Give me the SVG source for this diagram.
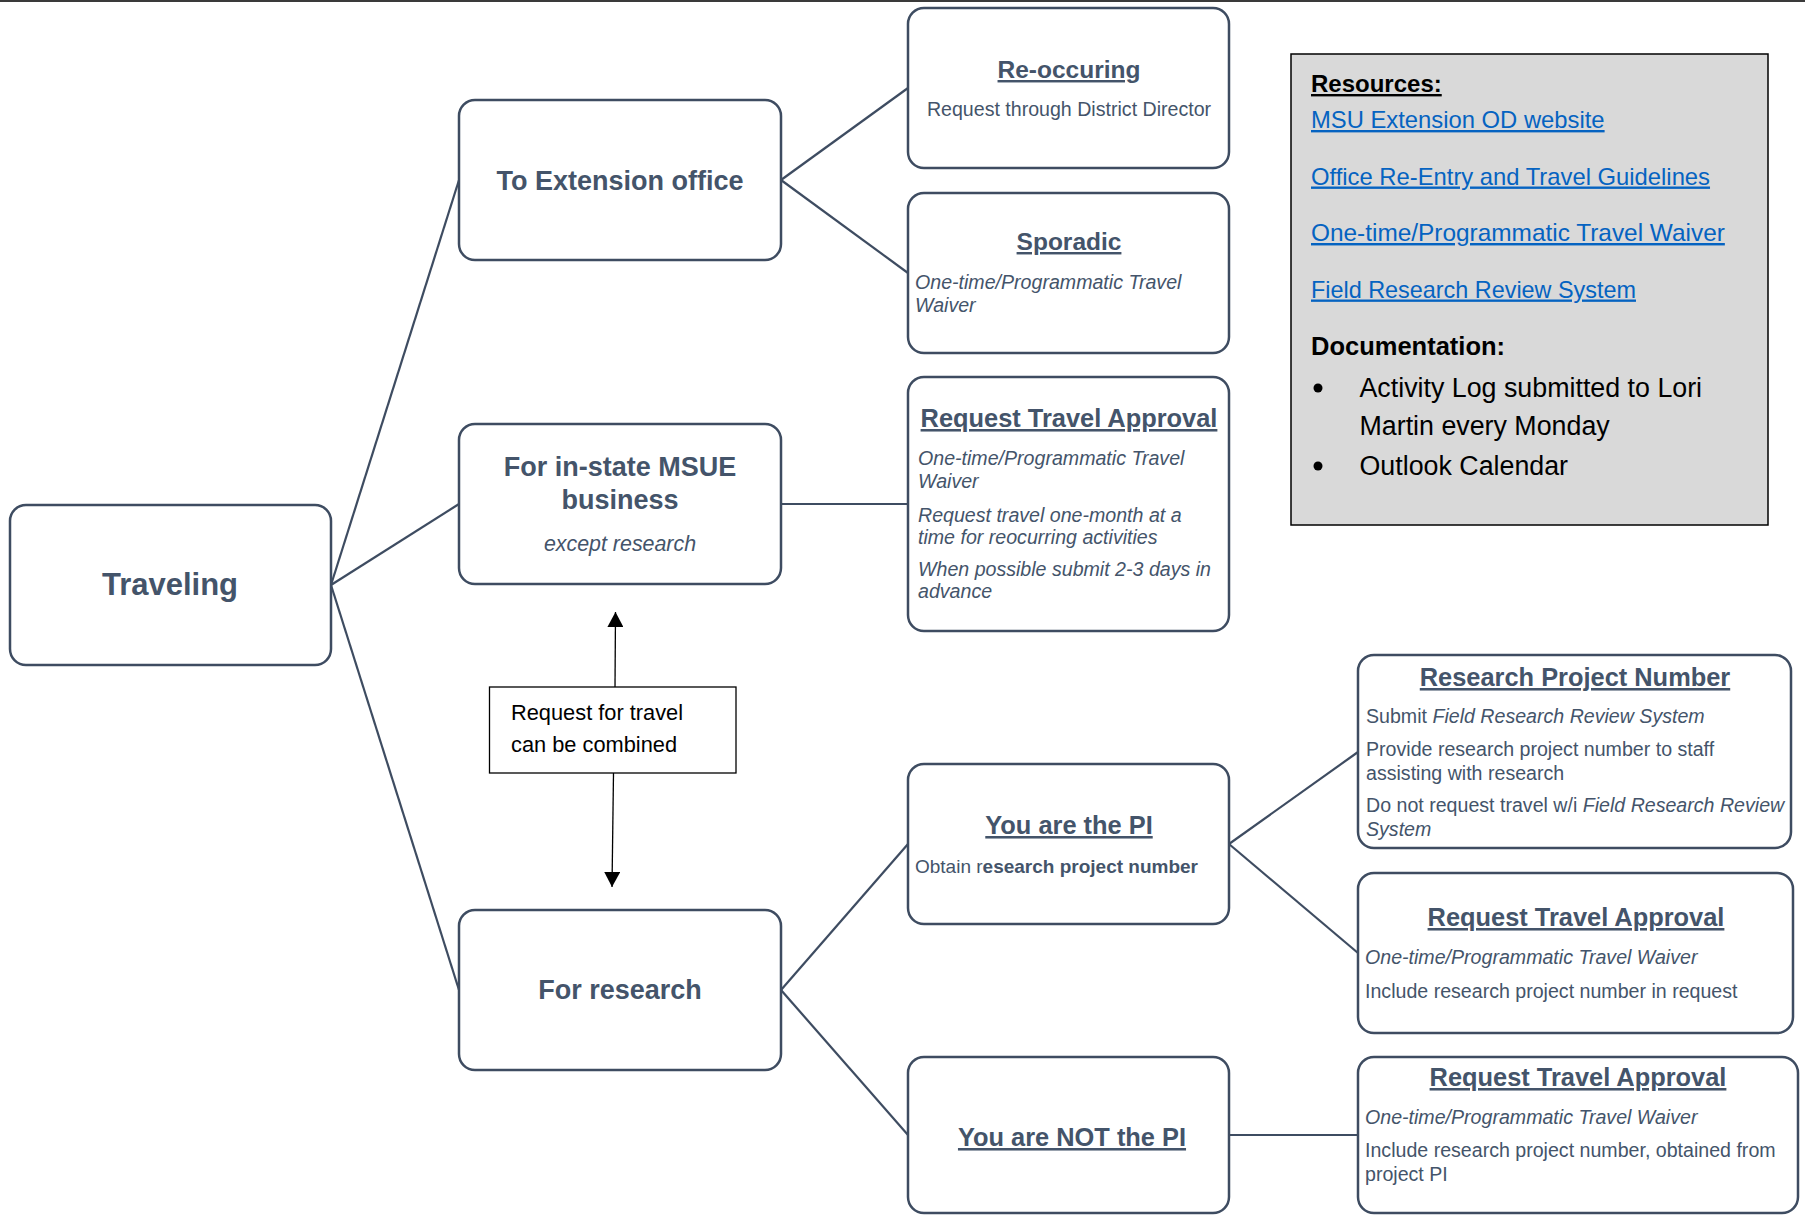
<svg xmlns="http://www.w3.org/2000/svg" width="1805" height="1215" viewBox="0 0 1805 1215">
<style>
text{font-family:"Liberation Sans",Arial,sans-serif;fill:#44546A}
.box{fill:#fff;stroke:#3E4C61;stroke-width:2.5}
.main{font-weight:bold;font-size:27px;text-anchor:middle}
.title{font-weight:bold;font-size:25.4px;text-anchor:middle;text-decoration:underline}
.body{font-size:19.6px}
.it{font-style:italic}
.b{font-weight:bold}
.conn line{stroke:#3E4C61;stroke-width:2.2}
.res{font-size:23.8px;fill:#0563C1;text-decoration:underline}
.blk{fill:#000}
</style>
<defs>
<marker id="ah" markerUnits="userSpaceOnUse" markerWidth="16" markerHeight="16" refX="15" refY="8" orient="auto">
<path d="M0,0 L15,8 L0,16 z" fill="#000"/>
</marker>
</defs>
<rect x="0" y="0" width="1805" height="2" fill="#3a3a3a"/>
<g id="connectors" class="conn">
<line x1="331" y1="585" x2="459" y2="180"/>
<line x1="331" y1="585" x2="459" y2="504"/>
<line x1="331" y1="585" x2="459" y2="990"/>
<line x1="781" y1="180" x2="908" y2="88"/>
<line x1="781" y1="180" x2="908" y2="273"/>
<line x1="781" y1="504" x2="908" y2="504"/>
<line x1="781" y1="990" x2="908" y2="844"/>
<line x1="781" y1="990" x2="908" y2="1135"/>
<line x1="1229" y1="844" x2="1358" y2="752"/>
<line x1="1229" y1="844" x2="1358" y2="953"/>
<line x1="1229" y1="1135" x2="1358" y2="1135"/>
<line x1="615" y1="687" x2="615.5" y2="612" style="stroke:#000;stroke-width:1.3" marker-end="url(#ah)"/>
<line x1="613.5" y1="773" x2="612" y2="887" style="stroke:#000;stroke-width:1.3" marker-end="url(#ah)"/>
</g>
<g id="traveling">
<rect class="box" x="10" y="505" width="321" height="160" rx="16"/>
<text x="170" y="595" style="font-weight:bold;font-size:31px;text-anchor:middle">Traveling</text>
</g>
<g id="to-extension-office">
<rect class="box" x="459" y="100" width="322" height="160" rx="16"/>
<text class="main" x="620" y="190">To Extension office</text>
</g>
<g id="in-state">
<rect class="box" x="459" y="424" width="322" height="160" rx="16"/>
<text class="main" x="620" y="476">For in-state MSUE</text>
<text class="main" x="620" y="509">business</text>
<text x="620" y="551" style="font-size:21.4px;font-style:italic;text-anchor:middle">except research</text>
</g>
<g id="for-research">
<rect class="box" x="459" y="910" width="322" height="160" rx="16"/>
<text class="main" x="620" y="999">For research</text>
</g>
<g id="re-occuring">
<rect class="box" x="908" y="8" width="321" height="160" rx="16"/>
<text class="title" x="1069" y="78" style="font-size:24.5px">Re-occuring</text>
<text class="body" x="1069" y="116" style="text-anchor:middle">Request through District Director</text>
</g>
<g id="sporadic">
<rect class="box" x="908" y="193" width="321" height="160" rx="16"/>
<text class="title" x="1069" y="250" style="font-size:24.5px">Sporadic</text>
<text class="body it" x="915" y="289">One-time/Programmatic Travel</text>
<text class="body it" x="915" y="312">Waiver</text>
</g>
<g id="rta-msue">
<rect class="box" x="908" y="377" width="321" height="254" rx="16"/>
<text class="title" x="1069" y="427">Request Travel Approval</text>
<text class="body it" x="918" y="465">One-time/Programmatic Travel</text>
<text class="body it" x="918" y="487.5">Waiver</text>
<text class="body it" x="918" y="521.5">Request travel one-month at a</text>
<text class="body it" x="918" y="543.5">time for reocurring activities</text>
<text class="body it" x="918" y="576">When possible submit 2-3 days in</text>
<text class="body it" x="918" y="598">advance</text>
</g>
<g id="resources">
<rect x="1291" y="54" width="477" height="471" fill="#D9D9D9" stroke="#000" stroke-width="1.5"/>
<text class="blk" x="1311" y="92" style="font-weight:bold;font-size:24px;text-decoration:underline">Resources:</text>
<text class="res" x="1311" y="128">MSU Extension OD website</text>
<text class="res" x="1311" y="184.5">Office Re-Entry and Travel Guidelines</text>
<text class="res" x="1311" y="241" style="font-size:24.4px">One-time/Programmatic Travel Waiver</text>
<text class="res" x="1311" y="297.5" style="font-size:23.4px">Field Research Review System</text>
<text class="blk" x="1311" y="355" style="font-weight:bold;font-size:25.5px">Documentation:</text>
<circle cx="1318" cy="388" r="4.5" fill="#000"/>
<text class="blk" x="1359.5" y="397" style="font-size:26.8px">Activity Log submitted to Lori</text>
<text class="blk" x="1359.5" y="435" style="font-size:26.8px">Martin every Monday</text>
<circle cx="1318" cy="466" r="4.5" fill="#000"/>
<text class="blk" x="1359.5" y="475" style="font-size:26.8px">Outlook Calendar</text>
</g>
<g id="combined-note">
<rect x="489.5" y="687" width="246.5" height="86" fill="#fff" stroke="#000" stroke-width="1.3"/>
<text class="blk" x="511" y="719.5" style="font-size:21.8px">Request for travel</text>
<text class="blk" x="511" y="751.5" style="font-size:21.8px">can be combined</text>
</g>
<g id="you-are-pi">
<rect class="box" x="908" y="764" width="321" height="160" rx="16"/>
<text class="title" x="1069" y="834">You are the PI</text>
<text x="915" y="873" style="font-size:19px">Obtain r<tspan class="b">esearch project number</tspan></text>
</g>
<g id="not-pi">
<rect class="box" x="908" y="1057" width="321" height="156" rx="16"/>
<text class="title" x="1072" y="1146">You are NOT the PI</text>
</g>
<g id="research-project-number">
<rect class="box" x="1358" y="655" width="433" height="193" rx="16"/>
<text class="title" x="1575" y="686">Research Project Number</text>
<text class="body" x="1366" y="723">Submit <tspan class="it">Field Research Review System</tspan></text>
<text class="body" x="1366" y="756">Provide research project number to staff</text>
<text class="body" x="1366" y="779.5">assisting with research</text>
<text class="body" x="1366" y="812">Do not request travel w/i <tspan class="it">Field Research Review</tspan></text>
<text class="body it" x="1366" y="835.5">System</text>
</g>
<g id="rta-pi">
<rect class="box" x="1358" y="873" width="435" height="160" rx="16"/>
<text class="title" x="1576" y="926">Request Travel Approval</text>
<text class="body it" x="1365" y="964">One-time/Programmatic Travel Waiver</text>
<text class="body" x="1365" y="997.5">Include research project number in request</text>
</g>
<g id="rta-not-pi">
<rect class="box" x="1358" y="1057" width="440" height="156" rx="16"/>
<text class="title" x="1578" y="1086">Request Travel Approval</text>
<text class="body it" x="1365" y="1124">One-time/Programmatic Travel Waiver</text>
<text class="body" x="1365" y="1157">Include research project number, obtained from</text>
<text class="body" x="1365" y="1180.5">project PI</text>
</g>
</svg>
